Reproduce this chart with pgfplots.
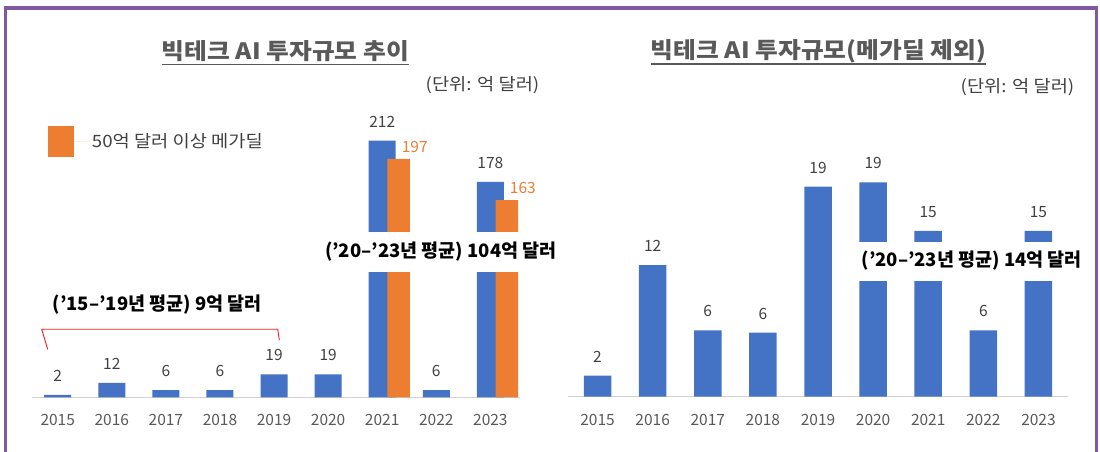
\documentclass[border=0pt]{standalone}
\usepackage{fontspec}
\setmainfont{Noto Sans CJK KR}
\usepackage{pgfplots}
\pgfplotsset{compat=1.18}
\definecolor{cblue}{HTML}{4472C4}
\definecolor{corange}{HTML}{ED7D31}
\definecolor{tgray}{HTML}{595959}
\definecolor{vgray}{HTML}{404040}
\definecolor{fpurple}{HTML}{7F5AA2}
\newcommand{\fs}[1]{\fontsize{#1}{#1}\selectfont}
\newcommand{\wide}{\addfontfeature{FakeStretch=1.1}}
\pgfplotsset{
  common/.style={
    scale only axis, ybar, clip=false,
    axis y line=none, axis x line*=bottom,
    x axis line style={draw=black!18, line width=1bp, -},
    ymin=0, ytick=\empty,
    xtick={0,...,8},
    xticklabels={2015,2016,2017,2018,2019,2020,2021,2022,2023},
    major tick length=0pt,
    xticklabel style={anchor=center, yshift=-23bp, font=\fs{15.5bp}, text=tgray},
    /pgf/number format/assume math mode=true,
  }
}
\begin{document}
\begin{tikzpicture}
\path[use as bounding box] (0,0) rectangle (1100bp,452bp);
\draw[fpurple, line width=3.5bp] (5.3bp,0) -- (5.3bp,444.2bp) -- (1096.7bp,444.2bp) -- (1096.7bp,0);

% titles
\node[font=\bfseries\fs{22.5bp}\wide, text=tgray, inner sep=0pt] (t1) at (285.4bp,401bp) {빅테크 AI 투자규모 추이};
\draw[tgray, line width=1.5bp] (t1.west |- 0,387.7bp) -- (t1.east |- 0,387.7bp);
\node[font=\fs{17bp}\wide, text=vgray, inner sep=0pt] at (482.5bp,366.5bp) {(단위: 억 달러)};

\node[font=\bfseries\fs{22.5bp}\wide, text=tgray, inner sep=0pt] (t2) at (818.4bp,400.6bp) {빅테크 AI 투자규모(메가딜 제외)};
\draw[tgray, line width=1.5bp] (t2.west |- 0,388bp) -- (t2.east |- 0,388bp);
\node[font=\fs{17bp}\wide, text=vgray, inner sep=0pt] at (1017.5bp,364.5bp) {(단위: 억 달러)};

% left chart
\begin{axis}[common,
  at={(32.3bp,54.7bp)}, anchor=south west,
  width=487.8bp, height=302.6bp,
  xmin=-0.47, xmax=8.55, ymax=250,
  legend style={at={(axis description cs:0.0316,0.8447)}, anchor=west, draw=none, fill=none,
    inner sep=0pt, font=\fs{17bp}\wide, text=vgray},
  legend image code/.code={\fill[corange] (0bp,-15.5bp) rectangle (26bp,15.5bp); \path (0bp,0bp) -- (42bp,0bp);},
]
\addplot[fill=cblue, draw=none, bar width=27bp, bar shift=0bp, forget plot,
  nodes near coords, nodes near coords style={anchor=center, yshift=19bp, font=\fs{15.5bp}, text=vgray}]
  coordinates {(0,2) (1,12) (2,6) (3,6) (4,19) (5,19) (6,212) (7,6) (8,178)};
\addplot[fill=corange, draw=none, bar width=22.5bp, bar shift=16.5bp,
  nodes near coords, nodes near coords style={anchor=center, xshift=16bp, yshift=12bp, font=\fs{15.5bp}, text=corange}]
  coordinates {(6,197) (8,163)};
\addlegendentry{50억 달러 이상 메가딜}
\node[fill=white, inner xsep=6bp, inner ysep=0pt, minimum height=40bp, font=\bfseries\fs{18.5bp}, text=black]
  at (axis cs:7.084,120) {(’20–’23년 평균) 104억 달러};
\node[font=\bfseries\fs{18.5bp}, text=black] at (axis cs:1.841,76.3) {(’15–’19년 평균) 9억 달러};
\draw[red!90, line width=0.9bp] (axis cs:-0.185,39.6) -- (axis cs:-0.296,56.2) -- (axis cs:4.068,56.2) -- (axis cs:4.098,47.3);
\end{axis}

% right chart
\begin{axis}[common,
  at={(568bp,55.3bp)}, anchor=south west,
  width=500bp, height=276.25bp,
  xmin=-0.536, xmax=8.536, ymax=25,
]
\addplot[fill=cblue, draw=none, bar width=27.5bp, bar shift=0bp,
  nodes near coords={\pgfmathprintnumber[fixed,precision=0]{\pgfplotspointmeta}},
  nodes near coords style={anchor=center, yshift=19bp, font=\fs{15.5bp}, text=vgray}]
  coordinates {(0,1.9) (1,11.9) (2,6.0) (3,5.8) (4,19.0) (5,19.4) (6,15.0) (7,6.0) (8,15.0)};
\node[fill=white, inner xsep=4bp, inner ysep=0pt, minimum height=39bp, font=\bfseries\fs{18.5bp}, text=black]
  at (axis cs:6.791,12.28) {(’20–’23년 평균) 14억 달러};
\end{axis}
\end{tikzpicture}
\end{document}
